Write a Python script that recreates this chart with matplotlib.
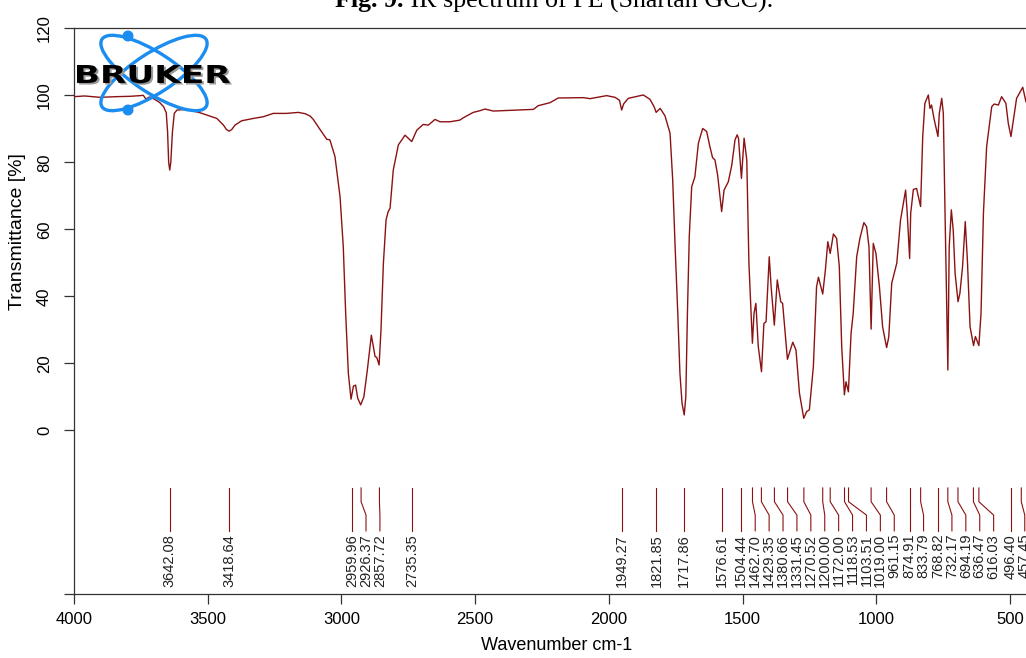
import matplotlib
matplotlib.use('Agg')
import matplotlib.pyplot as plt
from matplotlib.patches import Ellipse, Circle, PathPatch
from matplotlib.textpath import TextPath
from matplotlib.font_manager import FontProperties
from matplotlib.transforms import Affine2D

# ---------------- data ----------------
wavenumber = [4000, 3960, 3903, 3840, 3790, 3753, 3741, 3731, 3718, 3700, 3679, 3665,
              3655, 3650, 3646, 3642, 3638, 3632, 3625, 3615, 3578, 3529, 3466, 3441,
              3430, 3420, 3410, 3398, 3373, 3329, 3292, 3255, 3205, 3161, 3135, 3117,
              3105, 3080, 3055, 3043, 3024, 3005, 2993, 2984, 2974, 2964, 2955, 2947,
              2939, 2928, 2916, 2903, 2888, 2874, 2868, 2859, 2852, 2843, 2833, 2825,
              2818, 2806, 2787, 2762, 2737, 2718, 2694, 2675, 2650, 2631, 2594, 2557,
              2544, 2507, 2482, 2463, 2432, 2282, 2264, 2220, 2189, 2095, 2070, 2008,
              1977, 1960, 1952, 1944, 1927, 1871, 1846, 1830, 1823, 1808, 1790, 1771,
              1761, 1752, 1742, 1734, 1726, 1718, 1712, 1706, 1699, 1690, 1678, 1665,
              1649, 1634, 1622, 1612, 1603, 1593, 1578, 1569, 1553, 1540, 1528, 1520,
              1515, 1504, 1494, 1484, 1476, 1463, 1457, 1450, 1441, 1429, 1420, 1412,
              1400, 1393, 1381, 1370, 1357, 1350, 1332, 1325, 1312, 1300, 1287, 1271,
              1260, 1250, 1235, 1223, 1216, 1200, 1190, 1181, 1172, 1160, 1148, 1138,
              1129, 1119, 1113, 1104, 1094, 1086, 1073, 1061, 1046, 1036, 1027, 1019,
              1011, 1001, 988, 976, 961, 953, 942, 923, 909, 890, 884, 875, 871, 861,
              849, 834, 826, 818, 805, 799, 793, 784, 769, 764, 755, 749, 743, 732,
              727, 719, 712, 705, 694, 687, 677, 667, 659, 649, 636, 629, 616, 608,
              599, 587, 568, 559, 543, 531, 515, 506, 496, 487, 475, 452, 440]
transmittance = [99.6, 99.8, 99.4, 99.6, 99.7, 99.9, 100.0, 98.9, 99.5, 98.9, 97.8, 96.6,
                 94.8, 89.0, 80.0, 77.7, 80.0, 89.0, 94.6, 95.6, 95.8, 94.8, 93.1, 91.1,
                 89.8, 89.3, 89.8, 91.1, 92.4, 93.1, 93.6, 94.6, 94.6, 94.9, 94.5, 93.8,
                 92.8, 89.8, 86.9, 86.7, 81.7, 69.7, 54.8, 34.9, 17.0, 9.3, 13.2, 13.5,
                 9.6, 7.6, 10.0, 18.0, 28.4, 22.0, 21.8, 19.5, 29.9, 49.8, 62.8, 65.3,
                 66.3, 77.7, 85.2, 88.1, 86.2, 89.6, 91.3, 91.1, 92.8, 92.1, 92.1, 92.6,
                 93.3, 94.9, 95.4, 95.9, 95.3, 95.8, 96.9, 97.8, 99.2, 99.3, 99.0, 99.9,
                 99.4, 98.5, 95.6, 97.5, 99.1, 100.1, 98.8, 96.5, 94.9, 96.1, 93.9, 88.7,
                 74.7, 54.8, 34.9, 17.0, 8.0, 4.6, 10.0, 34.9, 58.0, 72.7, 75.7, 85.7,
                 90.1, 89.2, 84.7, 81.4, 80.7, 76.2, 65.3, 71.7, 74.2, 79.2, 86.7, 88.2,
                 87.2, 75.2, 87.2, 80.7, 49.9, 26.0, 34.9, 37.9, 25.0, 17.5, 31.9, 32.4,
                 51.8, 42.9, 31.4, 44.9, 38.4, 37.9, 21.2, 23.0, 26.3, 24.0, 11.1, 3.6,
                 5.6, 6.1, 19.0, 42.9, 45.7, 40.7, 47.9, 56.3, 52.8, 58.6, 57.3, 48.9,
                 25.0, 10.6, 14.5, 11.5, 29.0, 34.9, 51.8, 57.3, 62.0, 60.8, 54.8, 30.2,
                 55.8, 52.8, 42.9, 30.9, 24.7, 27.9, 43.9, 49.9, 62.8, 71.7, 64.8, 51.3, 64.8, 71.9,
                 72.2, 66.8, 87.7, 97.6, 100.1, 96.1, 97.1, 93.1, 87.7, 94.6, 99.1, 94.6, 66.8, 18.0,
                 54.8, 65.8, 59.8, 46.9, 38.4, 40.9, 48.9, 62.3, 50.8, 30.9, 25.3, 28.0, 25.3, 34.9,
                 64.8, 84.7, 96.6, 97.4, 97.1, 99.6, 97.6, 91.6, 87.7, 92.6, 99.1, 102.4, 98.1]

peak_wn = [3642.08, 3418.64, 2959.96, 2926.37, 2857.72, 2735.35, 1949.27, 1821.85,
           1717.86, 1576.61, 1504.44, 1462.70, 1429.35, 1380.66, 1331.45, 1270.52,
           1200.00, 1172.00, 1118.53, 1103.51, 1019.00, 961.15, 874.91, 833.79,
           768.82, 732.17, 694.19, 636.47, 616.03, 496.40, 457.45]
peak_labels = ["%.2f" % p for p in peak_wn]

x_ticks = [4000, 3500, 3000, 2500, 2000, 1500, 1000, 500]
y_ticks = [0, 20, 40, 60, 80, 100, 120]
title_bold = "Fig. 9."
title_rest = " IR spectrum of PE (Shartan GCC)."
x_label = "Wavenumber cm-1"
y_label = "Transmittance [%]"
logo_text = "BRUKER"

# ---------------- style ----------------
W, H = 1026, 658
SANS = 'Liberation Sans'
LINE = '#8b1212'
SPINE = '#333333'

fig = plt.figure(figsize=(W / 100, H / 100), dpi=100)
left_px, right_px, top_px, bot_px = 74, 1026, 28.3, 593.5
ax = fig.add_axes([left_px / W, 1 - bot_px / H, (right_px - left_px) / W, (bot_px - top_px) / H])

ax.plot(wavenumber, transmittance, color=LINE, lw=1.0, zorder=3)
ax.set_xlim(4000, 439.8)
ymin = -48.7
ax.set_ylim(ymin, 120)

for s in ['left', 'bottom', 'top']:
    ax.spines[s].set_color(SPINE)
    ax.spines[s].set_linewidth(0.9)
ax.spines['right'].set_visible(False)

ax.set_xticks(x_ticks)
ax.set_xticklabels([str(t) for t in x_ticks], fontfamily=SANS, fontsize=12)
ax.set_yticks([ymin] + y_ticks)
ax.set_yticklabels([''] + [str(t) for t in y_ticks], fontfamily=SANS, fontsize=12,
                   rotation=90, va='center')
ax.tick_params(axis='both', direction='out', length=7.4, width=0.9, color=SPINE)
ax.tick_params(axis='y', pad=8.5)
ax.tick_params(axis='x', pad=6)

ax.set_xlabel(x_label, fontfamily=SANS, fontsize=13)
ax.xaxis.set_label_coords((557 - left_px) / (right_px - left_px), (bot_px - 646) / (bot_px - top_px))
ax.xaxis.label.set_va('center')
ax.set_ylabel(y_label, fontfamily=SANS, fontsize=14)
ax.yaxis.set_label_coords((18 - left_px) / (right_px - left_px), (bot_px - 232) / (bot_px - top_px))
ax.yaxis.label.set_va('center')

# ---------------- peak labels ----------------
gap = 52.0
label_pos = []
for i, p in enumerate(peak_wn):
    if i == 0:
        label_pos.append(p)
    else:
        label_pos.append(min(p, label_pos[-1] - gap))
y_top, y_b1, y_b2, y_bot, y_txt = -17.2, -21.3, -25.3, -30.0, -30.9
for p, lp, lab in zip(peak_wn, label_pos, peak_labels):
    ax.plot([p, p, lp, lp], [y_top, y_b1, y_b2, y_bot], color=LINE, lw=0.8, zorder=2)
    ax.text(lp, y_txt, lab, rotation=90, ha='center', va='top', fontfamily=SANS,
            fontsize=10.5, color='#222222')

# ---------------- overlay (pixel coords) for logo & title ----------------
ov = fig.add_axes([0, 0, 1, 1], zorder=5)
ov.set_xlim(0, W)
ov.set_ylim(H, 0)
ov.axis('off')
ov.patch.set_alpha(0)

BLUE = '#1b8cf0'
cx, cy = 154, 73
for ang in (33, -33):
    ov.add_patch(Ellipse((cx, cy), 124, 40, angle=ang, fill=False, ec=BLUE, lw=2.4))
for (dx, dy) in [(128, 36), (128, 110)]:
    ov.add_patch(Circle((dx, dy), 4.8, color=BLUE))

tp = TextPath((0, 0), logo_text, size=10, prop=FontProperties(family='DejaVu Sans', weight='bold'))
ext = tp.get_extents()
bx0, bx1, by_top, by_bot = 77, 230, 65, 83.3
sx = (bx1 - bx0) / ext.width
sy = (by_bot - by_top) / ext.height
for off, col in [((2.0, 1.6), '#9a9a9a'), ((0, 0), 'black')]:
    tr = Affine2D().translate(-ext.x0, -ext.y0).scale(sx, -sy).translate(bx0 + off[0], by_bot + off[1])
    ov.add_patch(PathPatch(tr.transform_path(tp), fc=col, ec='none'))

# title (partly cut at top)
fig.canvas.draw()
r = fig.canvas.get_renderer()
t1 = fig.text(335 / W, 1 - 7.5 / H, title_bold, fontfamily='Liberation Serif', fontweight='bold',
              fontsize=18.7, ha='left', va='baseline')
bb = t1.get_window_extent(renderer=r)
fig.text(bb.x1 / W, 1 - 7.5 / H, title_rest, fontfamily='Liberation Serif', fontsize=18.7,
         ha='left', va='baseline')

fig.savefig('out.png', dpi=100)
